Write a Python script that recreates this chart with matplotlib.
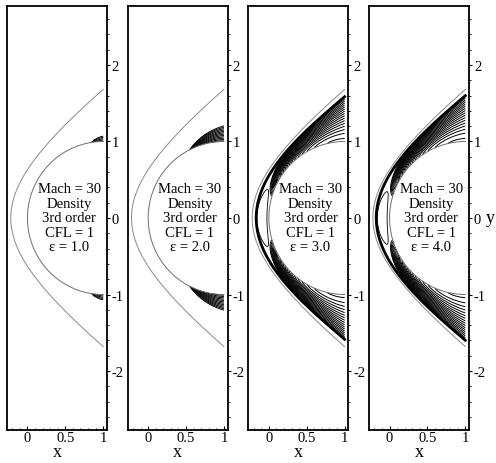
import numpy as np
import matplotlib
matplotlib.use("Agg")
import matplotlib.pyplot as plt
from matplotlib.ticker import MultipleLocator

plt.rcParams["font.family"] = ["Liberation Serif", "DejaVu Serif"]
plt.rcParams["axes.unicode_minus"] = False

mach = 30
cfl = 1
eps_values = [1.0, 2.0, 3.0, 4.0]

# bow shock: nose standoff, height where it leaves x = 1
shock_nose_x = -0.22
shock_exit_y = 1.68
shock_s = 1.2

# fan of density contours in each panel
fan_lo = [0.0005, 0.001, 0.008, 0.008]
fan_hi = [0.010, 0.027, 0.60, 0.60]
fan_n = [5, 12, 23, 23]
fan_r = [2.0, 3.0, 2.5, 2.5]
fan_b = [0.1, 0.09, 0.45, 0.45]
fan_p = [1.0, 1.0, 1.5, 1.5]
# thick compression line as fraction of shock layer (nose, exit)
core_eta = [None, None, (0.76, 0.86), (0.80, 0.88)]
bubble_size = [0.0, 0.0, 1.0, 0.92]

t = np.linspace(-1, 1, 401)
e = np.linspace(0, 1, 161)
T, E = np.meshgrid(t, e)


def body(tt):
    th = np.pi / 2 * tt
    return 1 - np.cos(th), np.sin(th)


def shock(tt):
    k = (1 - shock_nose_x) / (np.sqrt(1 + (shock_exit_y / shock_s) ** 2) - 1)
    sy = shock_exit_y * tt
    sx = shock_nose_x + k * (np.sqrt(1 + (sy / shock_s) ** 2) - 1)
    return sx, sy


fig = plt.figure(figsize=(4.96, 4.64), dpi=100)
W, H = 496, 464

for i, eps in enumerate(eps_values):
    left = 7 + 120.7 * i
    ax = fig.add_axes([left / W, 33 / H, 100 / W, 424 / H])

    bx, by = body(T)
    sx, sy = shock(T)
    if core_eta[i] is None:
        ec = np.ones_like(T)
    else:
        a, b = core_eta[i]
        ec = a + (b - a) * T ** 2
    cx = bx + ec * (sx - bx)
    cy = by + ec * (sy - by)
    X = bx + E * (cx - bx)
    Y = by + E * (cy - by)

    F = (1 - np.abs(T)) ** fan_r[i] + fan_b[i] * E ** fan_p[i]
    levels = np.linspace(fan_lo[i], fan_hi[i], fan_n[i])
    ax.contour(X, Y, F, levels=levels, colors="black", linewidths=0.7)

    if bubble_size[i] > 0:
        s = bubble_size[i]
        N = np.exp(-(T / (0.28 * s)) ** 2 - ((E - 0.55) / (0.48 * s)) ** 2)
        ax.contour(X, Y, N, levels=[0.5], colors="black", linewidths=0.6)

    bx1, by1 = body(t)
    sx1, sy1 = shock(t)
    ax.plot(bx1, by1, color="#6e6e6e", lw=0.7)
    ax.plot(sx1, sy1, color="#8a8a8a", lw=0.7)
    if core_eta[i] is not None:
        ax.plot(cx[-1], cy[-1], color="black", lw=2.0)

    ax.text(0.55, 0.0,
            "Mach = %d\nDensity\n3rd order\nCFL = %d\nε = %.1f" % (mach, cfl, eps),
            ha="center", va="center", fontsize=10.5, linespacing=1.15)

    ax.set_xlim(-0.27, 1.05)
    ax.set_ylim(-2.77, 2.77)
    ax.yaxis.tick_right()
    ax.xaxis.set_minor_locator(MultipleLocator(0.1))
    ax.yaxis.set_minor_locator(MultipleLocator(0.2))
    ax.set_xticks([0, 0.5, 1])
    ax.set_xticklabels(["0", "0.5", "1"])
    ax.set_yticks([-2, -1, 0, 1, 2])
    ax.set_yticklabels(["-2", "-1", "0", "1", "2"])
    ax.tick_params(axis="x", which="major", direction="in", length=3, width=0.8,
                   labelsize=10.5, pad=1)
    ax.tick_params(axis="x", which="minor", direction="in", length=1.5, width=0.6)
    ax.tick_params(axis="y", which="major", direction="out", length=2.5, width=0.8,
                   labelsize=10.5, pad=1)
    ax.tick_params(axis="y", which="minor", direction="out", length=1.2, width=0.6)
    for sp in ax.spines.values():
        sp.set_linewidth(1.3)
    ax.set_xlabel("x", fontsize=13, labelpad=-1)
    if i == 3:
        ax.yaxis.set_label_position("right")
        ax.set_ylabel("y", fontsize=13, rotation=0, va="center", labelpad=3)

fig.savefig("out.png", dpi=100)
